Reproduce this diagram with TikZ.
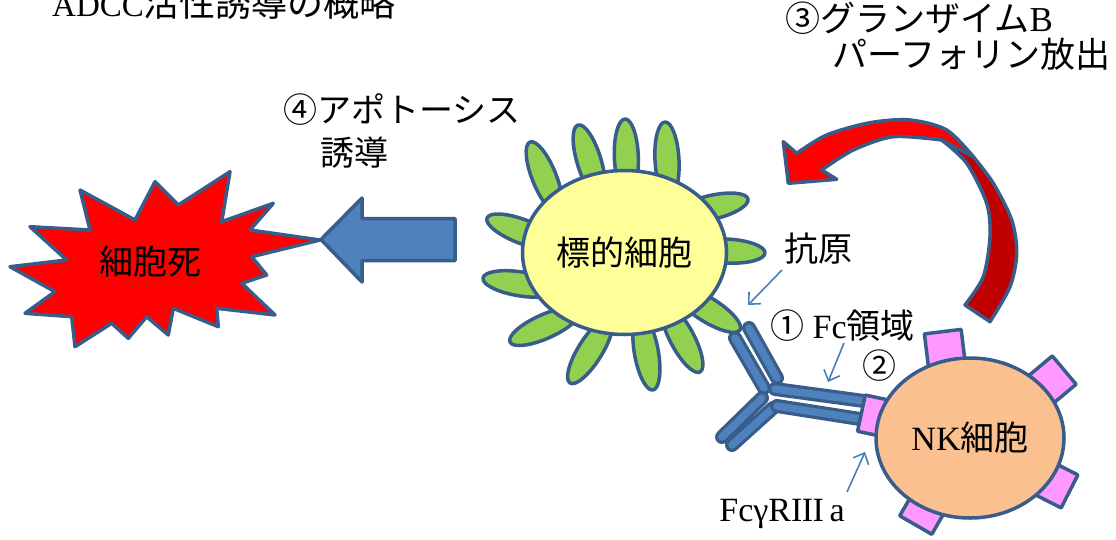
\documentclass[tikz,border=0pt]{standalone}
\usepackage{fontspec}
\setmainfont{Liberation Serif}
\newfontfamily\jp{Noto Sans CJK JP}
\usetikzlibrary{arrows.meta,shapes.geometric}

\definecolor{edgeblue}{HTML}{385D8A}
\definecolor{bodyblue}{HTML}{4F81BD}
\definecolor{thinblue}{HTML}{4A7EBB}
\definecolor{antigengreen}{HTML}{92D050}
\definecolor{targetyellow}{HTML}{FFFF99}
\definecolor{nkpeach}{HTML}{FAC090}
\definecolor{receptorpink}{HTML}{FF99FF}
\definecolor{burstred}{HTML}{FF0000}
\definecolor{backred}{HTML}{C00000}

\tikzset{
  outline/.style={draw=edgeblue, line width=3.5pt, line join=round},
  txt/.style={inner sep=0pt, font=\fontsize{34}{40}\selectfont},
  cellnode/.style={outline, ellipse, inner sep=0pt, txt},
  antigenshape/.style={outline, fill=antigengreen},
  receptorshape/.style={outline, fill=receptorpink},
  chainrim/.style={draw=edgeblue, line width=14pt, line cap=round},
  chaincore/.style={draw=bodyblue, line width=7.5pt, line cap=round},
  pointer/.style={draw=thinblue, line width=1.6pt,
    -{Straight Barb[length=9pt,width=17pt,line width=1.6pt]}}
}

% antigen spike: tip at (#1,#2), pointing in direction #3
\newcommand\antigen[3]{%
  \begin{scope}[shift={(#1,#2)},rotate=#3]
    \draw[antigenshape] (-38,0) ellipse[x radius=38, y radius=12];
  \end{scope}}
% receptor square centred at (#1,#2), turned by #3
\newcommand\receptor[3]{%
  \begin{scope}[shift={(#1,#2)},rotate=#3]
    \draw[receptorshape] (-18.5,-18.5) rectangle (18.5,18.5);
  \end{scope}}
% one antibody chain segment
\newcommand\chain[2]{%
  \draw[chainrim] #1 -- #2;
  \draw[chaincore] #1 -- #2;}
% roman numeral three with joined serifs
\newcommand\romanthree{I\kern-0.6pt I\kern-0.6pt I}

\begin{document}
\begin{tikzpicture}[x=1pt,y=-1pt]
\fill[white] (0,0) rectangle (1116,539);
\useasboundingbox (0,0) rectangle (1116,539);

% heading
\node[anchor=base west, inner sep=0pt, font=\fontsize{36}{42}\selectfont] (title)
  at (52,16) {{\fontsize{33}{40}\selectfont ADCC}\jp 活性誘導の概略};

% curved release arrow: back face, then front face with head
\draw[outline, fill=backred]
  plot[smooth] coordinates {(973.3,156.7) (993.3,183.3) (1011.7,220) (1016.7,253.3) (1010,286.7) (990,321.7)}
  -- (965,305)
  -- plot[smooth] coordinates {(965,305) (983.3,276.7) (990,236.7) (986.7,203.3) (966.7,163.3) (941.7,140)}
  -- cycle;
\draw[outline, fill=burstred]
  (788.3,183.3) -- (783.3,141.7) -- (796.7,153.3)
  -- plot[smooth] coordinates {(796.7,153.3) (826.7,135) (870,122.7) (910,120) (946.7,130) (973.3,156.7)}
  -- (941.7,140)
  -- plot[smooth] coordinates {(941.7,140) (893.3,136.7) (853.3,150) (821.7,170)}
  -- (836.7,179.3) -- cycle;

\node[txt, font=\fontsize{35}{40}\selectfont, anchor=base west] (release1) at (785,31) {{\jp ③グランザイム}B};
\node[txt, font=\fontsize{35}{40}\selectfont, anchor=base west] (release2) at (832,67) {\jp パーフォリン放出};

% cell death burst
\draw[outline, fill=burstred]
  (10,266.7) -- (66.7,260) -- (30,226.7) -- (90,230) -- (80,190) -- (135,220)
  -- (155,181.7) -- (178.3,205) -- (230,171.7) -- (221.7,221.7) -- (273.3,203.3)
  -- (250,230) -- (320,240) -- (251.7,256.7) -- (266.7,275) -- (241.7,283.3)
  -- (275,315) -- (216.7,308.3) -- (218.3,326.7) -- (173.3,308.3) -- (168.3,335)
  -- (146.7,316.7) -- (128.3,338.3) -- (111.7,323.3) -- (75,346.7) -- (71.7,316.7)
  -- (25,313.3) -- (55,291.7) -- cycle;
\node[txt] (death) at (150,262) {\jp 細胞死};

% apoptosis block arrow
\draw[outline, fill=bodyblue]
  (321,239.5) -- (362,198) -- (362,218.5) -- (455,218.5) -- (455,260.5)
  -- (362,260.5) -- (362,282) -- cycle;
\node[txt, anchor=base west] (apo1) at (283,122) {\jp ④アポトーシス};
\node[txt, anchor=base west] (apo2) at (320,165) {\jp 誘導};

% target cell with antigens
\antigen{530}{142}{112}
\antigen{578}{125}{107}
\antigen{625}{119}{92}
\antigen{665}{122}{93}
\antigen{748}{199}{13}
\antigen{765}{253}{-3}
\antigen{740}{330}{-32}
\antigen{700}{372}{-62}
\antigen{653}{390}{-80}
\antigen{570}{383}{-122}
\antigen{510}{342}{-156}
\antigen{483}{278}{171}
\antigen{487}{218}{159}
\node[cellnode, fill=targetyellow, minimum width=204pt, minimum height=164pt]
  (target) at (624.5,252.5) {\jp 標的細胞};

% antibody
\chain{(735,338)}{(764,388)}
\chain{(749,328)}{(777,378)}
\chain{(762,398)}{(722,437)}
\chain{(773,408)}{(732,445)}
\chain{(775,389)}{(864,401)}
\chain{(777,406)}{(860,419)}

% NK cell with Fc receptors
\receptor{945}{350}{7}
\receptor{1050}{382}{40}
\receptor{1053}{483}{-27}
\receptor{925}{509}{-30}
\receptor{879.5}{417}{-12}
\node[cellnode, fill=nkpeach, minimum width=188pt, minimum height=160pt]
  (nk) at (970,438) {NK{\jp 細胞}};

% labels and pointers
\node[txt] (antigen) at (818,249) {\jp 抗原};
\node[txt, anchor=west] (fc) at (770,326) {{\jp ①} Fc{\jp 領域}};
\node[txt] (bind) at (879,366) {\jp ②};
\node[txt] (fcr) at (782,514) {FcγR\romanthree\,a};

\coordinate (agtail) at (782,270);
\coordinate (agtip) at (748,305);
\coordinate (fctail) at (844,343);
\coordinate (fctip) at (828,382);
\coordinate (frtail) at (847,492);
\coordinate (frtip) at (865,452);
\draw[pointer] (agtail) -- (agtip);
\draw[pointer] (fctail) -- (fctip);
\draw[pointer] (frtail) -- (frtip);
\end{tikzpicture}
\end{document}
